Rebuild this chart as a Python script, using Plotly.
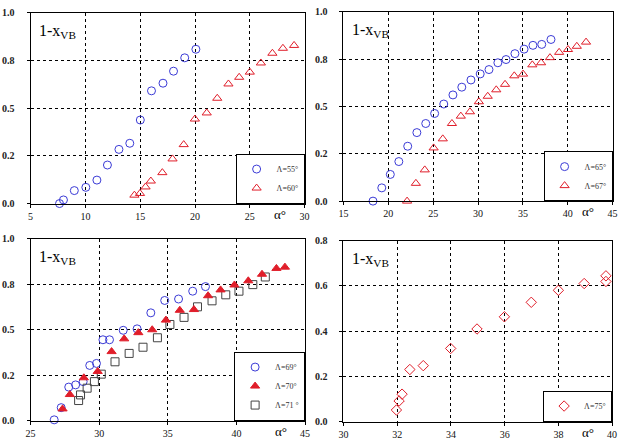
import plotly.graph_objects as go

# ---------------- data ----------------
# Panel 1
p1_l55_x = [7.64, 8.0, 8.99, 10.04, 11.05, 12.01, 13.06, 14.05, 15.01, 16.03, 17.08, 18.04, 19.06, 20.08]
p1_l55_y = [0.0, 0.019, 0.068, 0.085, 0.123, 0.202, 0.284, 0.316, 0.438, 0.591, 0.631, 0.694, 0.764, 0.809]
p1_l60_x = [14.47, 14.98, 15.49, 15.97, 17.02, 17.95, 18.97, 19.99, 21.07, 22.03, 23.05, 24.03, 25.0, 26.01, 27.06, 28.02, 29.04]
p1_l60_y = [0.044, 0.053, 0.087, 0.118, 0.162, 0.234, 0.309, 0.443, 0.475, 0.552, 0.627, 0.662, 0.689, 0.737, 0.788, 0.814, 0.829]

# Panel 2
p2_l65_x = [18.29, 19.27, 20.22, 21.17, 22.16, 23.18, 24.17, 25.16, 26.18, 27.2, 28.19, 29.21, 30.24, 31.22,
            32.21, 33.12, 34.11, 35.13, 36.12, 37.1, 38.13]
p2_l65_y = [0.0, 0.070, 0.141, 0.209, 0.290, 0.362, 0.410, 0.463, 0.513, 0.561, 0.602, 0.640, 0.672, 0.695,
            0.731, 0.748, 0.779, 0.803, 0.823, 0.828, 0.854]
p2_l67_x = [22.09, 23.07, 24.06, 25.05, 26.07, 27.09, 28.08, 29.1, 30.09, 31.08, 32.03, 33.01, 34.04, 35.02,
            36.05, 37.03, 38.02, 39.04, 40.03, 41.01, 42.04]
p2_l67_y = [0.0, 0.094, 0.165, 0.281, 0.329, 0.410, 0.449, 0.472, 0.525, 0.554, 0.588, 0.617, 0.662, 0.671,
            0.720, 0.731, 0.758, 0.786, 0.801, 0.818, 0.840]

# Panel 3
p3_l69_x = [26.72, 27.23, 27.78, 28.28, 28.83, 29.31, 29.8, 30.27, 30.75, 31.75, 32.76, 33.76, 34.77, 35.78, 36.81, 37.74]
p3_l69_y = [0.004, 0.071, 0.184, 0.196, 0.214, 0.303, 0.314, 0.444, 0.444, 0.496, 0.504, 0.592, 0.660, 0.668, 0.711, 0.736]
p3_l70_x = [27.33, 27.86, 28.88, 29.89, 30.9, 31.82, 32.85, 33.86, 34.86, 35.87, 36.9, 37.93, 38.84, 39.85,
            40.86, 41.86, 42.91, 43.53]
p3_l70_y = [0.064, 0.143, 0.235, 0.270, 0.379, 0.449, 0.483, 0.499, 0.552, 0.606, 0.610, 0.686, 0.718, 0.745,
            0.768, 0.804, 0.836, 0.843]
p3_l71_x = [28.5, 28.64, 29.12, 29.65, 30.15, 31.15, 32.18, 33.19, 34.24, 35.15, 36.18, 37.16, 38.22, 39.22,
            40.18, 41.19, 42.1]
p3_l71_y = [0.110, 0.141, 0.178, 0.214, 0.255, 0.323, 0.369, 0.403, 0.455, 0.528, 0.567, 0.625, 0.658, 0.691,
            0.711, 0.747, 0.789]

# Panel 4
p4_l75_x = [31.97, 32.07, 32.18, 32.47, 32.97, 33.99, 34.97, 35.99, 36.99, 38.0, 38.96, 39.77, 39.77]
p4_l75_y = [0.051, 0.091, 0.121, 0.230, 0.247, 0.323, 0.409, 0.463, 0.527, 0.580, 0.610, 0.619, 0.644]

ytick_vals_a = [0, 0.25, 0.5, 0.75, 1.0]
ytick_text_a = ["0.0", "0.2", "0.5", "0.8", "1.0"]
ytick_vals_b = [0, 0.2, 0.4, 0.6, 0.8]
ytick_text_b = ["0.0", "0.2", "0.4", "0.6", "0.8"]
xticks_1 = [5, 10, 15, 20, 25, 30]
xticks_2 = [15, 20, 25, 30, 35, 40, 45]
xticks_3 = [25, 30, 35, 40, 45]
xticks_4 = [30, 32, 34, 36, 38, 40]

# ---------------- style ----------------
FONT = "Liberation Serif"
BLUE = "#3b3bd6"
RED = "#e01e2a"
GREY = "#444444"
W, H = 624, 447

def px_dom_x(a, b):
    return [a / W, b / W]

def px_dom_y(top, bottom):
    return [1 - bottom / H, 1 - top / H]

panels = {
    1: dict(x=(26, 304.5), y=(7, 203), xr=[5, 30], xt=xticks_1, yr=[0, 1], yv=ytick_vals_a, yt=ytick_text_a),
    2: dict(x=(344, 617.5), y=(6, 200.5), xr=[15, 45], xt=xticks_2, yr=[0, 1], yv=ytick_vals_a, yt=ytick_text_a),
    3: dict(x=(26, 305), y=(239, 426), xr=[25, 45], xt=xticks_3, yr=[0, 1], yv=ytick_vals_a, yt=ytick_text_a),
    4: dict(x=(344, 617), y=(241, 427), xr=[30, 40], xt=xticks_4, yr=[0, 0.8], yv=ytick_vals_b, yt=ytick_text_b),
}

fig = go.Figure()

def add(x, y, name, panel, symbol, color, legend, rank, size=8):
    fig.add_trace(go.Scatter(
        x=x, y=y, mode="markers", name=name,
        xaxis="x" if panel == 1 else f"x{panel}",
        yaxis="y" if panel == 1 else f"y{panel}",
        legend=legend, legendrank=rank, cliponaxis=False,
        marker=dict(symbol=symbol, size=size, color=color, line=dict(width=1, color=color)),
    ))

add(p1_l55_x, p1_l55_y, "Λ=55°", 1, "circle-open", BLUE, "legend", 1)
add(p1_l60_x, p1_l60_y, "Λ=60°", 1, "triangle-up-open", RED, "legend", 2)
add(p2_l65_x, p2_l65_y, "Λ=65°", 2, "circle-open", BLUE, "legend2", 1)
add(p2_l67_x, p2_l67_y, "Λ=67°", 2, "triangle-up-open", RED, "legend2", 2)
add(p3_l69_x, p3_l69_y, "Λ=69°", 3, "circle-open", BLUE, "legend3", 1)
add(p3_l71_x, p3_l71_y, "Λ=71 °", 3, "square-open", GREY, "legend3", 3)
add(p3_l70_x, p3_l70_y, "Λ=70°", 3, "triangle-up", RED, "legend3", 2)
add(p4_l75_x, p4_l75_y, "Λ=75°", 4, "diamond-open", RED, "legend4", 1)

layout = dict(
    width=W, height=H, margin=dict(l=0, r=0, t=0, b=0),
    paper_bgcolor="white", plot_bgcolor="white",
    font=dict(family=FONT, color="black", size=10),
    showlegend=True,
)

annotations = []
for k, p in panels.items():
    xs = "xaxis" if k == 1 else f"xaxis{k}"
    ys = "yaxis" if k == 1 else f"yaxis{k}"
    xa = "x" if k == 1 else f"x{k}"
    ya = "y" if k == 1 else f"y{k}"
    common = dict(showline=True, mirror=True, linecolor="black", linewidth=1,
                  showgrid=True, gridcolor="black", gridwidth=1, griddash="dot",
                  zeroline=False, ticks="outside", tickcolor="black", ticklen=3)
    layout[xs] = dict(common, domain=px_dom_x(*p["x"]), range=p["xr"], tickvals=p["xt"],
                      ticktext=[str(v) for v in p["xt"]],
                      anchor=ya, tickfont=dict(family=FONT, size=10, color="#111"))
    layout[ys] = dict(common, domain=px_dom_y(*p["y"]), range=p["yr"], tickvals=p["yv"],
                      ticktext=p["yt"], anchor=xa, ticklabelstandoff=10,
                      tickfont=dict(family=FONT, size=10, color="#222", weight="bold"))
    annotations.append(dict(text="1-x<sub>VB</sub>", xref="paper", yref="paper",
                            x=(p["x"][0] + 7) / W, y=1 - (p["y"][0] + 19) / H,
                            xanchor="left", yanchor="middle", showarrow=False,
                            font=dict(family=FONT, size=16, color="black")))
    annotations.append(dict(text="α°", xref="paper", yref="paper",
                            x=(p["x"][1] - 25) / W, y=1 - (p["y"][1] + 11) / H,
                            xanchor="center", yanchor="middle", showarrow=False,
                            font=dict(family=FONT, size=13, color="black")))
    lname = "legend" if k == 1 else f"legend{k}"
    layout[lname] = dict(x=p["x"][1] / W, y=1 - p["y"][1] / H, xanchor="right", yanchor="bottom",
                         bgcolor="white", bordercolor="black", borderwidth=1,
                         font=dict(family=FONT, size=8, color="#333"),
                         itemwidth=30, tracegroupgap=0)

layout["annotations"] = annotations
fig.update_layout(**layout)

fig.write_html("out.html")
